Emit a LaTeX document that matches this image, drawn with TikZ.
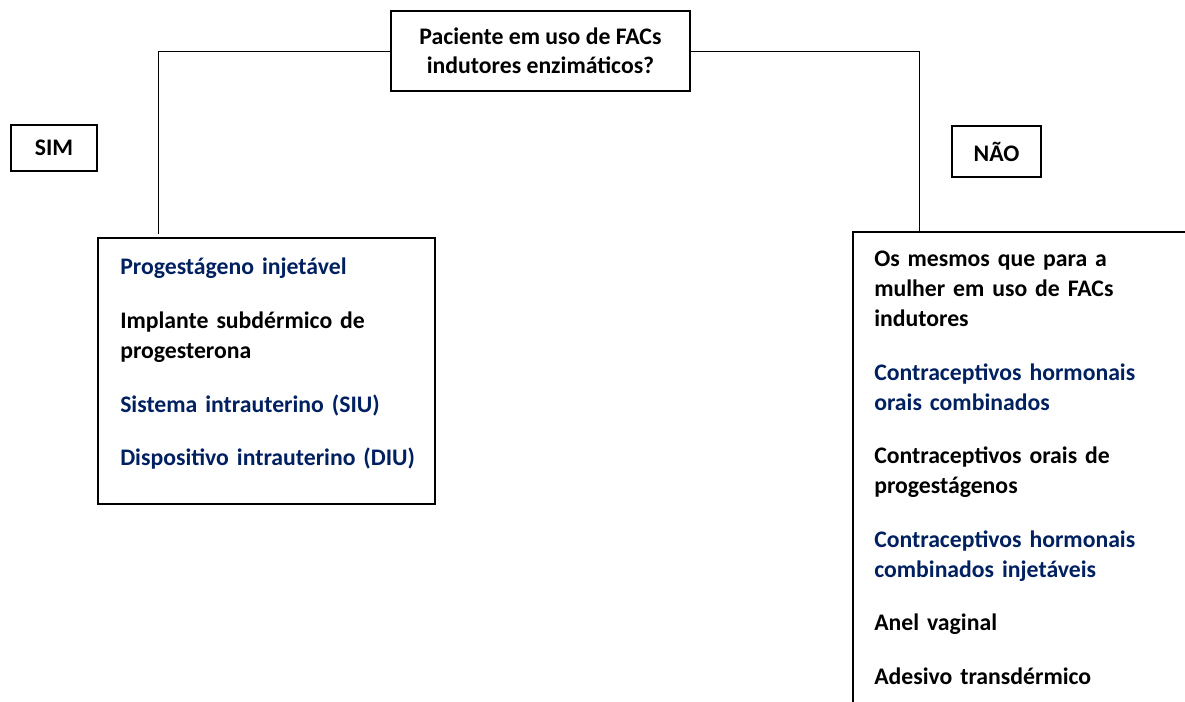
\documentclass[tikz,border=0pt]{standalone}
\usepackage{fontspec}
\setmainfont{Carlito}
\usepackage{xcolor}
\usetikzlibrary{positioning}
\definecolor{navytxt}{HTML}{002060}

\begin{document}
\begin{tikzpicture}[
			x=0.75pt, y=-0.75pt,
			box/.style={rectangle, draw, line width=1pt, align=center, inner sep=0pt, font=\fontsize{17.8}{22}\selectfont\bfseries},
			list/.style={anchor=base west, inner sep=0pt, text width=235pt, align=left, font=\fontsize{17.8}{22.4}\selectfont\bfseries},
			link/.style={line width=0.6pt}
			]
			\useasboundingbox (0,0) rectangle (1185,702);
			\clip (0,0) rectangle (1185,702);
			\node[box, minimum width=224.25pt, minimum height=60pt] (quest) at (540.5,51) {Paciente em uso de FACs\\indutores enzimáticos?};
			\node[box, minimum width=64.5pt, minimum height=34.5pt] (sim) at (54,148) {SIM};
			\node[box, minimum width=66.75pt, minimum height=38.25pt] (nao) at (996.5,151.5) {NÃO};
			\node[box, minimum width=252.75pt, minimum height=199.5pt] (simbox) at (266.5,371) {};
			\node[box, minimum width=260.25pt, minimum height=366pt] (naobox) at (1026.5,476) {};
			\node[list] (simlist) at (120,275) {\textcolor{navytxt}{Progestágeno injetável}\\[17.8pt]
				Implante subdérmico de\\progesterona\\[17.8pt]
				\textcolor{navytxt}{Sistema intrauterino (SIU)}\\[17.8pt]
				\textcolor{navytxt}{Dispositivo intrauterino (DIU)}};
			\node[list] (naolist) at (874,267) {Os mesmos que para a\\mulher em uso de FACs\\indutores\\[17.8pt]
				\textcolor{navytxt}{Contraceptivos hormonais\\orais combinados}\\[17.8pt]
				Contraceptivos orais de\\progestágenos\\[17.8pt]
				\textcolor{navytxt}{Contraceptivos hormonais\\combinados injetáveis}\\[17.8pt]
				Anel vaginal\\[17.8pt]
				Adesivo transdérmico};
			\coordinate (simend) at (158,234);
			\coordinate (naoend) at (919,232);
			\draw[link] (quest.west) -| (simend);
			\draw[link] (quest.east) -| (naoend);
		\end{tikzpicture}
\end{document}
